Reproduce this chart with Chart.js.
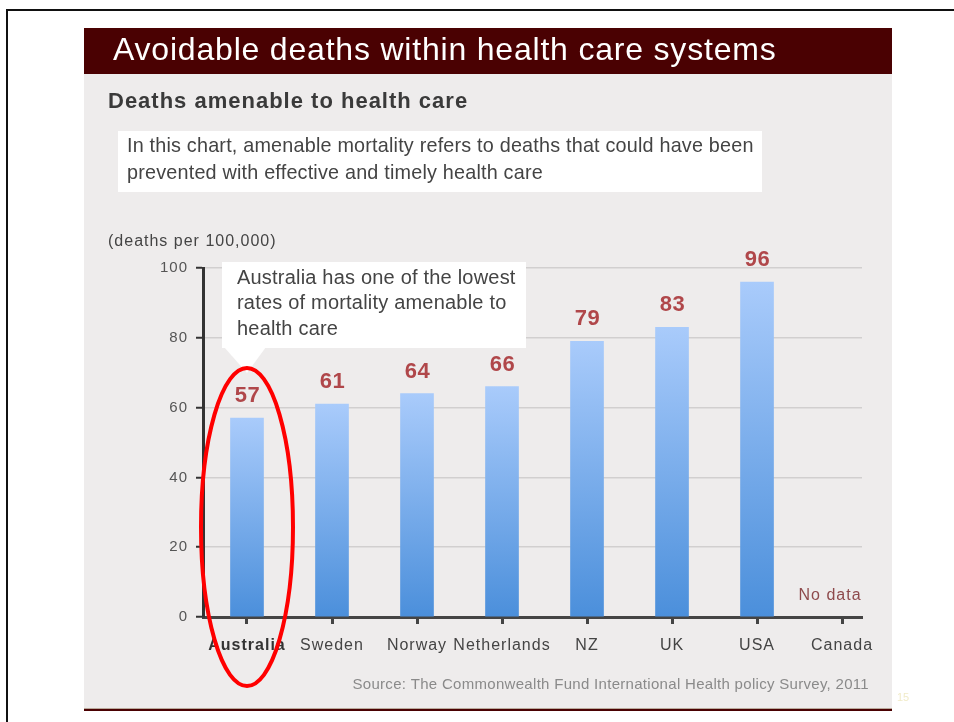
<!DOCTYPE html>
<html>
<head>
<meta charset="utf-8">
<title>Avoidable deaths within health care systems</title>
<script src="https://cdn.jsdelivr.net/npm/chart.js@4.4.1/dist/chart.umd.min.js"></script>
<style>
    body { margin: 0; background: #ffffff; }
    #wrap { width: 954px; height: 722px; }
</style>
</head>
<body>
<div id="wrap"><canvas id="Deaths_Chart" width="954" height="722"></canvas></div>
<script>
// deaths amenable to health care, per 100,000 (Canada: no data)
const countries = ['Australia', 'Sweden', 'Norway', 'Netherlands', 'NZ', 'UK', 'USA', 'Canada'];
const deaths = [57, 61, 64, 66, 79, 83, 96, null];
const yTicks = [0, 20, 40, 60, 80, 100];

const FONT = '"Liberation Sans", Arial, sans-serif';

const noteLines = [
    'In this chart, amenable mortality refers to deaths that could have been',
    'prevented with effective and timely health care'
];
const calloutLines = [
    'Australia has one of the lowest',
    'rates of mortality amenable to',
    'health care'
];

function text(c, str, x, y, font, color, spacing, align) {
    c.font = font;
    c.fillStyle = color;
    c.letterSpacing = spacing + 'px';
    c.textAlign = align || 'left';
    c.fillText(str, x, y);
}

// ----------------------------
// slide frame: panel, header, note, source
// ----------------------------
const slideFrame = {
    id: 'slideFrame',
    beforeDraw(chart) {
        const c = chart.ctx;
        c.save();
        c.fillStyle = '#ffffff';
        c.fillRect(0, 0, 954, 722);

        // outer black border (top + left)
        c.fillStyle = '#111111';
        c.fillRect(6, 9, 948, 2);
        c.fillRect(6, 9, 2, 713);

        // grey panel
        c.fillStyle = '#eeecec';
        c.fillRect(84, 28, 808, 681);

        // title bar
        c.fillStyle = '#4a0102';
        c.fillRect(84, 28, 808, 46);
        c.textBaseline = 'middle';
        text(c, 'Avoidable deaths within health care systems', 113, 51, '32px ' + FONT, '#ffffff', 0.8);

        // subtitle
        text(c, 'Deaths amenable to health care', 108, 102, 'bold 22px ' + FONT, '#3a3a3a', 1);

        // definition note
        c.fillStyle = '#ffffff';
        c.fillRect(118, 131, 644, 61);
        noteLines.forEach((line, i) => text(c, line, 127, 147 + i * 27, '19.8px ' + FONT, '#444444', 0.2));

        // unit label
        text(c, '(deaths per 100,000)', 108, 242, '16px ' + FONT, '#444444', 1);

        // source
        text(c, 'Source: The Commonwealth Fund International Health policy Survey, 2011', 869, 685,
            '15px ' + FONT, '#8a8a8a', 0.3, 'right');

        // slide number
        text(c, '15', 897, 698, '11px ' + FONT, '#f1ebc8', 0);

        // panel bottom rule
        c.fillStyle = '#b9aa9c';
        c.fillRect(84, 708, 808, 1);
        c.fillStyle = '#4a0102';
        c.fillRect(84, 709, 808, 2);
        c.restore();

        // axis labels are drawn a little spaced out
        c.letterSpacing = '1px';
    },
    afterDraw(chart) {
        const c = chart.ctx;
        const meta = chart.getDatasetMeta(0);
        const xScale = chart.scales.x;
        c.save();
        c.textBaseline = 'middle';

        // value labels above bars
        meta.data.forEach((bar, i) => {
            if (deaths[i] == null) return;
            text(c, String(deaths[i]), bar.x + 0.5, bar.y - 22, 'bold 22px ' + FONT, '#b0474a', 0.5, 'center');
        });

        // missing value note
        deaths.forEach((v, i) => {
            if (v == null) {
                text(c, 'No data', xScale.getPixelForValue(i) - 12, 596, '16px ' + FONT, '#8e4a4c', 1, 'center');
            }
        });

        // callout bubble
        c.fillStyle = '#ffffff';
        c.fillRect(222, 262, 304, 86);
        c.beginPath();
        c.moveTo(224, 347);
        c.lineTo(266, 347);
        c.lineTo(247, 373);
        c.closePath();
        c.fill();
        calloutLines.forEach((line, i) => text(c, line, 237, 278 + i * 25.5, '20px ' + FONT, '#444444', 0.2));

        // red ring round Australia
        c.strokeStyle = '#ff0000';
        c.lineWidth = 4;
        c.beginPath();
        c.ellipse(xScale.getPixelForValue(0), 527, 46, 159, 0, 0, Math.PI * 2);
        c.stroke();
        c.restore();
    }
};

// light-to-dark blue fill for each bar
function barGradient(context) {
    const chart = context.chart;
    const { chartArea, scales } = chart;
    if (!chartArea || context.raw == null || context.raw.y == null) return '#8ab8f0';
    const top = scales.y.getPixelForValue(context.raw.y);
    const bottom = scales.y.getPixelForValue(0);
    const g = chart.ctx.createLinearGradient(0, top, 0, bottom);
    g.addColorStop(0, '#a9cbfb');
    g.addColorStop(1, '#4b8fdb');
    return g;
}

const ctx = document.getElementById('Deaths_Chart').getContext('2d');

new Chart(ctx, {
    type: 'bar',
    data: {
        datasets: [{
            label: 'Deaths per 100,000',
            data: countries.map((name, i) => ({ x: i, y: deaths[i] })),
            backgroundColor: barGradient,
            borderWidth: 0,
            barThickness: 33
        }]
    },
    options: {
        responsive: false,
        animation: false,
        devicePixelRatio: 1,
        layout: { padding: { top: 268, right: 92, bottom: 0, left: 0 } },
        plugins: {
            legend: { display: false },
            tooltip: { enabled: false }
        },
        scales: {
            x: {
                type: 'linear',
                min: -0.5176,
                max: 7.235,
                offset: false,
                afterBuildTicks: axis => {
                    axis.ticks = countries.map((name, i) => ({ value: i }));
                },
                afterFit: axis => { axis.height = 105; },
                border: { color: '#444444', width: 3 },
                grid: {
                    offset: false,
                    drawOnChartArea: false,
                    drawTicks: true,
                    tickLength: 7,
                    tickColor: '#444444',
                    tickWidth: 3
                },
                ticks: {
                    autoSkip: false,
                    maxRotation: 0,
                    padding: 12,
                    color: context => context.index === 0 ? '#333333' : '#444444',
                    font: context => ({
                        family: FONT,
                        size: 16,
                        weight: context.index === 0 ? 'bold' : 'normal'
                    }),
                    callback: value => countries[value]
                }
            },
            y: {
                min: 0,
                max: 100,
                afterBuildTicks: axis => {
                    axis.ticks = yTicks.map(v => ({ value: v }));
                },
                afterFit: axis => { axis.width = 203; },
                border: { color: '#333333', width: 3 },
                grid: {
                    color: '#d1cfcf',
                    lineWidth: 1.5,
                    drawTicks: true,
                    tickLength: 7,
                    tickColor: '#333333',
                    tickWidth: 2
                },
                ticks: {
                    padding: 8,
                    color: '#555555',
                    font: { family: FONT, size: 15 }
                }
            }
        }
    },
    plugins: [slideFrame]
});
</script>
</body>
</html>
